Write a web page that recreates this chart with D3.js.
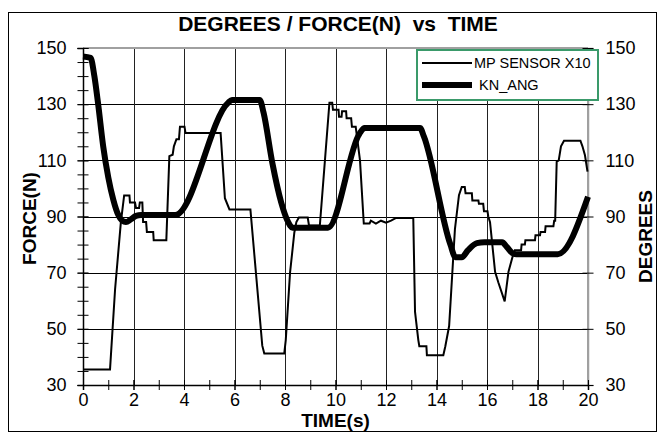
<!DOCTYPE html>
<html>
<head>
<meta charset="utf-8">
<script src="https://cdn.jsdelivr.net/npm/d3@7"></script>
<style>
  body { margin: 0; background: #fff; }
  svg text { font-family: 'Liberation Sans', Arial, sans-serif; fill: #000; }
</style>
</head>
<body>
<div class="canvas"></div>
<script>
// tick values
const xTicks = [0, 2, 4, 6, 8, 10, 12, 14, 16, 18, 20];
const yTicks = [30, 50, 70, 90, 110, 130, 150];

// MP SENSOR X10 (force, N)
const mpTime = [0, 1.07, 1.27, 1.5, 1.63, 1.84, 1.86, 2.06, 2.1, 2.22, 2.25, 2.35, 2.38, 2.5, 2.53, 2.78, 2.8, 3.3,
  3.42, 3.55, 3.6, 3.7, 3.8, 3.84, 4.02, 4.06, 5.45, 5.62, 5.8, 6.63, 7.1, 7.18, 7.97, 8.03, 8.2, 8.37, 8.45, 8.55,
  8.9, 8.95, 9.38, 9.76, 9.87, 9.9, 10.12, 10.14, 10.24, 10.26, 10.42, 10.44, 10.62, 10.65, 10.8, 10.97, 11.12,
  11.35, 11.4, 11.6, 11.8, 12.0, 12.2, 12.4, 13.08, 13.15, 13.28, 13.32, 13.6, 13.62, 14.27, 14.35, 14.5, 14.73,
  14.89, 15.0, 15.12, 15.15, 15.4, 15.42, 15.66, 15.68, 15.85, 15.88, 16.02, 16.05, 16.12, 16.32, 16.45, 16.7,
  16.85, 17.04, 17.1, 17.15, 17.35, 17.37, 17.5, 17.52, 17.9, 17.92, 18.1, 18.12, 18.3, 18.32, 18.63, 18.66, 18.7,
  18.76, 18.84, 18.93, 19.05, 19.7, 19.78, 19.88, 19.98];
const mpForce = [35.5, 35.5, 64, 88, 97.5, 97.5, 95, 95, 93, 93, 95, 95, 88, 88, 84.5, 84.5, 81.5, 81.5,
  111.5, 112, 115, 117.5, 117.5, 122, 122, 119.7, 119.7, 96.5, 92.5, 92.5, 44, 41.2, 41.2, 46, 70, 84.3, 88, 89.6,
  89.6, 86.8, 86.8, 130.5, 130.5, 128, 128, 125.5, 125.5, 127.5, 127.5, 125, 125, 122, 122, 110, 87.5,
  87.5, 88.5, 87.5, 88.5, 87.8, 88.5, 89.5, 89.5, 56, 46, 43.8, 43.8, 40.6, 40.6, 43.8, 51, 85.5,
  97.6, 100.5, 100.5, 98.3, 98.3, 95.7, 95.7, 94.5, 94.5, 91.9, 91.9, 90, 88, 70.3, 66.5, 59.8,
  70.3, 76.6, 78, 78, 78, 80, 80, 81.5, 81.5, 83.3, 83.3, 84.5, 84.5, 86.5, 86.5, 88.5, 88.5,
  109.5, 110, 115, 117, 117, 115, 111.8, 106];

// KN_ANG (degrees)
const knTime = [0, 0.3, 0.45, 0.6, 0.8, 1.0, 1.2, 1.4, 1.55, 1.7, 1.9, 2.1, 2.3, 3.65, 5.75, 5.9, 7.0, 7.15, 7.5,
  7.85, 8.1, 8.3, 9.7, 10.95, 11.15, 13.35, 13.5, 14.55, 14.75, 15.0, 15.25, 15.6, 15.9, 16.6, 16.8, 17.0, 17.15,
  18.8, 20];
const knAngle = [147, 146.5, 140, 130, 115, 104, 96, 90.5, 88.5, 88, 89, 90.2, 90.5, 90.5, 130.5, 131.5, 131.5, 127, 109,
  95, 88.5, 86, 86, 119.5, 121.5, 121.5, 118.5, 80, 75.5, 75.5, 78, 80.5, 80.8, 80.8, 79, 77, 76.6,
  76.6, 97];

const mpData = mpTime.map((t, i) => ({ t: t, v: mpForce[i] }));
const knData = knTime.map((t, i) => ({ t: t, v: knAngle[i] }));

const width = 665, height = 440;
const margin = { top: 48, right: 77, bottom: 55, left: 83 };
const graphWidth = width - margin.left - margin.right;
const graphHeight = height - margin.top - margin.bottom;

const svg = d3.select('.canvas')
  .append('svg')
  .attr('width', width)
  .attr('height', height);

// outer chart frame
svg.append('rect')
  .attr('x', 8.5).attr('y', 12.5)
  .attr('width', 648).attr('height', 419)
  .attr('fill', '#fff')
  .attr('stroke', '#000')
  .attr('stroke-width', 1);

const graph = svg.append('g')
  .attr('transform', `translate(${margin.left}, ${margin.top})`);

// scales (both axes share 30..150)
const x = d3.scaleLinear().domain([0, 20]).range([0, graphWidth]);
const y = d3.scaleLinear().domain([30, 150]).range([graphHeight, 0]);
const y2 = d3.scaleLinear().domain([30, 150]).range([graphHeight, 0]);

// gridlines
graph.append('g')
  .selectAll('line')
  .data(yTicks.slice(1, -1))
  .join('line')
  .attr('x1', 0).attr('x2', graphWidth)
  .attr('y1', d => Math.round(y(d)) + 0.5).attr('y2', d => Math.round(y(d)) + 0.5)
  .attr('stroke', '#000');

graph.append('g')
  .selectAll('line')
  .data(xTicks.slice(1, -1))
  .join('line')
  .attr('x1', d => Math.round(x(d)) + 0.5).attr('x2', d => Math.round(x(d)) + 0.5)
  .attr('y1', 0).attr('y2', graphHeight)
  .attr('stroke', '#222');

// plot border top / right (grey)
graph.append('line')
  .attr('x1', 0).attr('x2', graphWidth).attr('y1', 0).attr('y2', 0)
  .attr('stroke', '#a0a0a0').attr('stroke-width', 2);
graph.append('line')
  .attr('x1', graphWidth).attr('x2', graphWidth).attr('y1', 0).attr('y2', graphHeight)
  .attr('stroke', '#a0a0a0').attr('stroke-width', 2);

// axes
const styleAxis = (g, fontSize) => {
  g.select('.domain').attr('stroke', '#000').attr('stroke-width', 1.5);
  g.selectAll('.tick line').attr('stroke', '#000');
  g.selectAll('text').attr('font-size', fontSize).attr('fill', '#000');
};

// minor ticks first, then labelled axes on top
const yMinor = graph.append('g')
  .call(d3.axisLeft(y).tickValues(d3.range(30, 151, 5)).tickSize(5.5).tickFormat(''));
yMinor.selectAll('.tick line').attr('x2', 5.5).attr('x1', -5.5).attr('stroke', '#000');
yMinor.select('.domain').remove();

const xMinor = graph.append('g')
  .attr('transform', `translate(0, ${graphHeight})`)
  .call(d3.axisBottom(x).tickValues(d3.range(0, 21, 1)).tickSize(5).tickFormat(''));
xMinor.selectAll('.tick line').attr('y1', -5).attr('y2', 5).attr('stroke', '#000');
xMinor.select('.domain').remove();

const yAxisGroup = graph.append('g')
  .call(d3.axisLeft(y).tickValues(yTicks).tickSize(5.5).tickPadding(11))
  .call(g => styleAxis(g, 18));
yAxisGroup.selectAll('.tick line').attr('x1', 5.5);

const y2AxisGroup = graph.append('g')
  .attr('transform', `translate(${graphWidth}, 0)`)
  .call(d3.axisRight(y2).tickValues(yTicks).tickSize(5.5).tickPadding(12))
  .call(g => styleAxis(g, 18));
y2AxisGroup.selectAll('.tick line').attr('x1', -5.5);
y2AxisGroup.select('.domain').attr('stroke', '#a0a0a0');

const xAxisGroup = graph.append('g')
  .attr('transform', `translate(0, ${graphHeight})`)
  .call(d3.axisBottom(x).tickValues(xTicks).tickSize(5).tickPadding(3))
  .call(g => styleAxis(g, 18));
xAxisGroup.selectAll('.tick line').attr('y1', -5);

// lines
const line = d3.line()
  .x(d => x(d.t))
  .y(d => y(d.v));

graph.append('path')
  .datum(mpData)
  .attr('fill', 'none')
  .attr('stroke', '#000')
  .attr('stroke-width', 2)
  .attr('stroke-linejoin', 'miter')
  .attr('d', line);

graph.append('path')
  .datum(knData)
  .attr('fill', 'none')
  .attr('stroke', '#000')
  .attr('stroke-width', 6)
  .attr('stroke-linejoin', 'round')
  .attr('d', line.curve(d3.curveMonotoneX));

// titles
svg.append('text')
  .text('DEGREES / FORCE(N)  vs  TIME')
  .attr('x', 338).attr('y', 31)
  .attr('text-anchor', 'middle')
  .attr('font-weight', 'bold')
  .attr('font-size', 21)
  .style('white-space', 'pre');

svg.append('text')
  .text('TIME(s)')
  .attr('x', margin.left + graphWidth / 2).attr('y', 427)
  .attr('text-anchor', 'middle')
  .attr('font-weight', 'bold')
  .attr('font-size', 19);

svg.append('text')
  .text('FORCE(N)')
  .attr('transform', `translate(36, ${margin.top + graphHeight / 2 + 2}) rotate(-90)`)
  .attr('text-anchor', 'middle')
  .attr('font-weight', 'bold')
  .attr('font-size', 19);

svg.append('text')
  .text('DEGREES')
  .attr('transform', `translate(652, ${margin.top + graphHeight / 2 + 20}) rotate(-90)`)
  .attr('text-anchor', 'middle')
  .attr('font-weight', 'bold')
  .attr('font-size', 19);

// legend
const legend = svg.append('g');
legend.append('rect')
  .attr('x', 417).attr('y', 50)
  .attr('width', 181).attr('height', 50)
  .attr('fill', '#fff')
  .attr('stroke', '#3a9a6a')
  .attr('stroke-width', 2);

const legendItems = [
  { label: 'MP SENSOR X10', w: 2, y: 63, tx: 474 },
  { label: 'KN_ANG', w: 6, y: 85, tx: 479 }
];
legendItems.forEach(item => {
  legend.append('line')
    .attr('x1', 422).attr('x2', 472)
    .attr('y1', item.y).attr('y2', item.y)
    .attr('stroke', '#000')
    .attr('stroke-width', item.w);
  legend.append('text')
    .text(item.label)
    .attr('x', item.tx).attr('y', item.y + 5)
    .attr('font-size', 14.5);
});
</script>
</body>
</html>
